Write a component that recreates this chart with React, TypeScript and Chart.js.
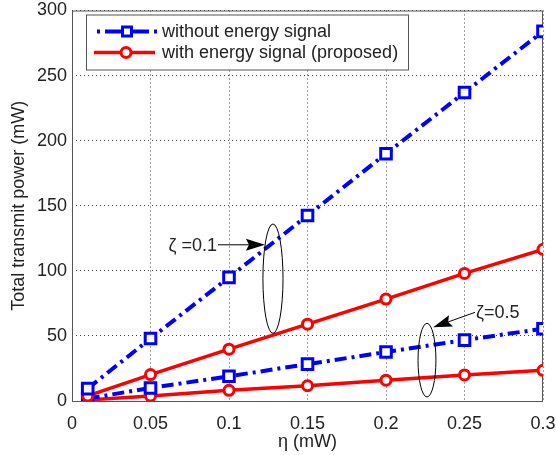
import React, { useEffect, useRef } from 'react';
import { Chart, registerables } from 'chart.js';
Chart.register(...registerables);

const etaValues = [0.01, 0.05, 0.1, 0.15, 0.2, 0.25, 0.3];
const withoutZeta01 = [9.5, 48, 95, 142.5, 190, 237, 284];
const withZeta01 = [3.9, 20.3, 39.8, 59, 78.3, 98, 116.5];
const withoutZeta05 = [1.9, 10, 19, 28.3, 37.6, 46.8, 55.5];
const withZeta05 = [0.8, 3.9, 8.2, 11.7, 16, 20, 23.6];
const xTicks = [0, 0.05, 0.1, 0.15, 0.2, 0.25, 0.3];
const yTicks = [0, 50, 100, 150, 200, 250, 300];
const seriesLabels = ['without energy signal', 'with energy signal (proposed)'];
const xTitle = 'η (mW)';
const yTitle = 'Total transmit power (mW)';
// annotations in data coordinates
const zeta01Label = 'ζ =0.1';
const zeta05Label = 'ζ=0.5';
const ellipse01 = { x: 0.128, y: 94, rx: 0.0064, ry: 42 };
const ellipse05 = { x: 0.2261, y: 31.4, rx: 0.0057, ry: 28.3 };
const arrow01 = { x0: 0.093, y0: 120, x1: 0.1229, y1: 120 };
const arrow05 = { x0: 0.2567, y0: 68.1, x1: 0.23, y1: 56.6 };

const FONT = '"Liberation Sans", Arial, sans-serif';
const BLUE = '#0000ff';
const RED = '#ff0000';
const BLUE_DASH = [12, 5, 3, 5];

const toXY = (arr: number[]) => arr.map((v, i) => ({ x: etaValues[i], y: v }));

const annotationsPlugin = {
  id: 'annotations',
  beforeDatasetsDraw(chart: any) {
    const { ctx, chartArea: a } = chart;
    ctx.save();
    ctx.strokeStyle = '#555';
    ctx.lineWidth = 1;
    ctx.setLineDash([]);
    ctx.strokeRect(a.left + 0.5, a.top + 0.5, a.right - a.left - 1, a.bottom - a.top);
    ctx.restore();
  },
  afterDatasetsDraw(chart: any) {
    const { ctx, chartArea: a, scales } = chart;
    const xs = scales.x, ys = scales.y;
    ctx.save();
    ctx.setLineDash([]);
    ctx.strokeStyle = '#000';
    ctx.fillStyle = '#000';
    ctx.lineWidth = 1;
    const drawEllipse = (e: any) => {
      const cx = xs.getPixelForValue(e.x), cy = ys.getPixelForValue(e.y);
      const rx = Math.abs(xs.getPixelForValue(e.x + e.rx) - cx);
      const ry = Math.abs(ys.getPixelForValue(e.y + e.ry) - cy);
      ctx.beginPath();
      ctx.ellipse(cx, cy, rx, ry, 0, 0, Math.PI * 2);
      ctx.stroke();
    };
    const drawArrow = (ar: any) => {
      const x0 = xs.getPixelForValue(ar.x0), y0 = ys.getPixelForValue(ar.y0);
      const x1 = xs.getPixelForValue(ar.x1), y1 = ys.getPixelForValue(ar.y1);
      const ang = Math.atan2(y1 - y0, x1 - x0);
      const len = 16, half = 6;
      const bx = x1 - len * Math.cos(ang), by = y1 - len * Math.sin(ang);
      ctx.beginPath();
      ctx.moveTo(x0, y0);
      ctx.lineTo(bx, by);
      ctx.stroke();
      ctx.beginPath();
      ctx.moveTo(x1, y1);
      ctx.lineTo(bx - half * Math.sin(ang) - 3 * Math.cos(ang), by + half * Math.cos(ang) - 3 * Math.sin(ang));
      ctx.lineTo(bx, by);
      ctx.lineTo(bx + half * Math.sin(ang) - 3 * Math.cos(ang), by - half * Math.cos(ang) - 3 * Math.sin(ang));
      ctx.closePath();
      ctx.fill();
    };
    drawEllipse(ellipse01);
    drawEllipse(ellipse05);
    drawArrow(arrow01);
    drawArrow(arrow05);
    ctx.font = `18px ${FONT}`;
    ctx.fillStyle = '#222';
    ctx.textBaseline = 'middle';
    ctx.textAlign = 'right';
    ctx.fillText(zeta01Label, xs.getPixelForValue(arrow01.x0) - 1, ys.getPixelForValue(arrow01.y0) + 1);
    ctx.textAlign = 'left';
    ctx.fillText(zeta05Label, xs.getPixelForValue(arrow05.x0) + 1, ys.getPixelForValue(arrow05.y0) + 1);

    // legend
    const lx = a.left + 14, ly = a.top + 4, lw = 322, lh = 55;
    ctx.fillStyle = '#fff';
    ctx.fillRect(lx, ly, lw, lh);
    ctx.strokeStyle = '#555';
    ctx.lineWidth = 1;
    ctx.strokeRect(lx + 0.5, ly + 0.5, lw, lh);
    const rows = [ly + 17, ly + 38];
    // row 1 blue: dot, dash (through marker), dot
    ctx.strokeStyle = BLUE;
    ctx.lineWidth = 4;
    const segs = [[11, 14], [19, 63], [68, 71]];
    segs.forEach(([s0, s1]) => {
      ctx.beginPath();
      ctx.moveTo(lx + s0, rows[0]);
      ctx.lineTo(lx + s1, rows[0]);
      ctx.stroke();
    });
    ctx.fillStyle = '#fff';
    ctx.lineWidth = 3;
    ctx.fillRect(lx + 36.5, rows[0] - 4.5, 9, 9);
    ctx.strokeRect(lx + 36.5, rows[0] - 4.5, 9, 9);
    // row 2 red
    ctx.strokeStyle = RED;
    ctx.lineWidth = 3.5;
    ctx.beginPath();
    ctx.moveTo(lx + 8, rows[1]);
    ctx.lineTo(lx + 69, rows[1]);
    ctx.stroke();
    ctx.lineWidth = 3;
    ctx.beginPath();
    ctx.arc(lx + 40, rows[1], 5, 0, Math.PI * 2);
    ctx.fill();
    ctx.stroke();
    ctx.fillStyle = '#222';
    ctx.font = `18px ${FONT}`;
    ctx.textAlign = 'left';
    ctx.textBaseline = 'middle';
    ctx.fillText(seriesLabels[0], lx + 76, rows[0] + 1);
    ctx.fillText(seriesLabels[1], lx + 76, rows[1] + 1);
    ctx.restore();
  },
};

const fmt = (v: number) => String(Number(v.toFixed(2)));

export default function App() {
  const ref = useRef<HTMLCanvasElement>(null);
  useEffect(() => {
    if (!ref.current) return;
    const blueDs = (data: number[], label: string) => ({
      label,
      data: toXY(data),
      borderColor: BLUE,
      backgroundColor: '#fff',
      borderWidth: 4,
      borderDash: BLUE_DASH,
      pointStyle: 'rect',
      pointRadius: 7.5,
      pointBorderWidth: 3,
      pointBorderColor: BLUE,
      pointBackgroundColor: '#fff',
      tension: 0,
    });
    const redDs = (data: number[], label: string) => ({
      label,
      data: toXY(data),
      borderColor: RED,
      backgroundColor: '#fff',
      borderWidth: 3.5,
      pointStyle: 'circle',
      pointRadius: 5,
      pointBorderWidth: 3,
      pointBorderColor: RED,
      pointBackgroundColor: '#fff',
      tension: 0,
    });
    const chart = new Chart(ref.current, {
      type: 'line',
      data: {
        datasets: [
          blueDs(withoutZeta01, seriesLabels[0]),
          redDs(withZeta01, seriesLabels[1]),
          blueDs(withoutZeta05, seriesLabels[0]),
          redDs(withZeta05, seriesLabels[1]),
        ] as any,
      },
      options: {
        animation: false,
        responsive: false,
        devicePixelRatio: 1,
        layout: { padding: 0 },
        plugins: { legend: { display: false }, tooltip: { enabled: false } },
        scales: {
          x: {
            type: 'linear',
            min: 0,
            max: 0.3,
            afterBuildTicks: (s: any) => { s.ticks = xTicks.map((v) => ({ value: v })); },
            afterFit: (s: any) => {
              s.height = 54;
              s.paddingLeft = 0;
              s.paddingRight = 14;
            },
            ticks: {
              callback: (v: any) => fmt(Number(v)),
              font: { family: FONT, size: 18 },
              color: '#222',
              padding: 12,
              maxRotation: 0,
            },
            grid: { color: '#444', drawTicks: false, lineWidth: 1 },
            border: { display: false, dash: [1, 3] },
            title: {
              display: true,
              text: xTitle,
              font: { family: FONT, size: 18 },
              color: '#222',
              padding: { top: 0, bottom: 2 },
            },
          },
          y: {
            type: 'linear',
            min: 0,
            max: 300,
            afterBuildTicks: (s: any) => { s.ticks = yTicks.map((v) => ({ value: v })); },
            afterFit: (s: any) => {
              s.width = 72;
              s.paddingTop = 9;
              s.paddingBottom = 0;
            },
            ticks: {
              callback: (v: any) => fmt(Number(v)),
              font: { family: FONT, size: 18 },
              color: '#222',
              padding: 5,
            },
            grid: { color: '#444', drawTicks: false, lineWidth: 1 },
            border: { display: false, dash: [1, 3] },
            title: {
              display: true,
              text: yTitle,
              font: { family: FONT, size: 18 },
              color: '#222',
              padding: { top: 8, bottom: 4 },
            },
          },
        },
      },
      plugins: [annotationsPlugin],
    });
    return () => chart.destroy();
  }, []);
  return (
    <div style={{ position: 'fixed', left: 0, top: 0, width: 557, height: 455, background: '#fff' }}>
      <canvas ref={ref} width={557} height={455} style={{ display: 'block' }} />
    </div>
  );
}
